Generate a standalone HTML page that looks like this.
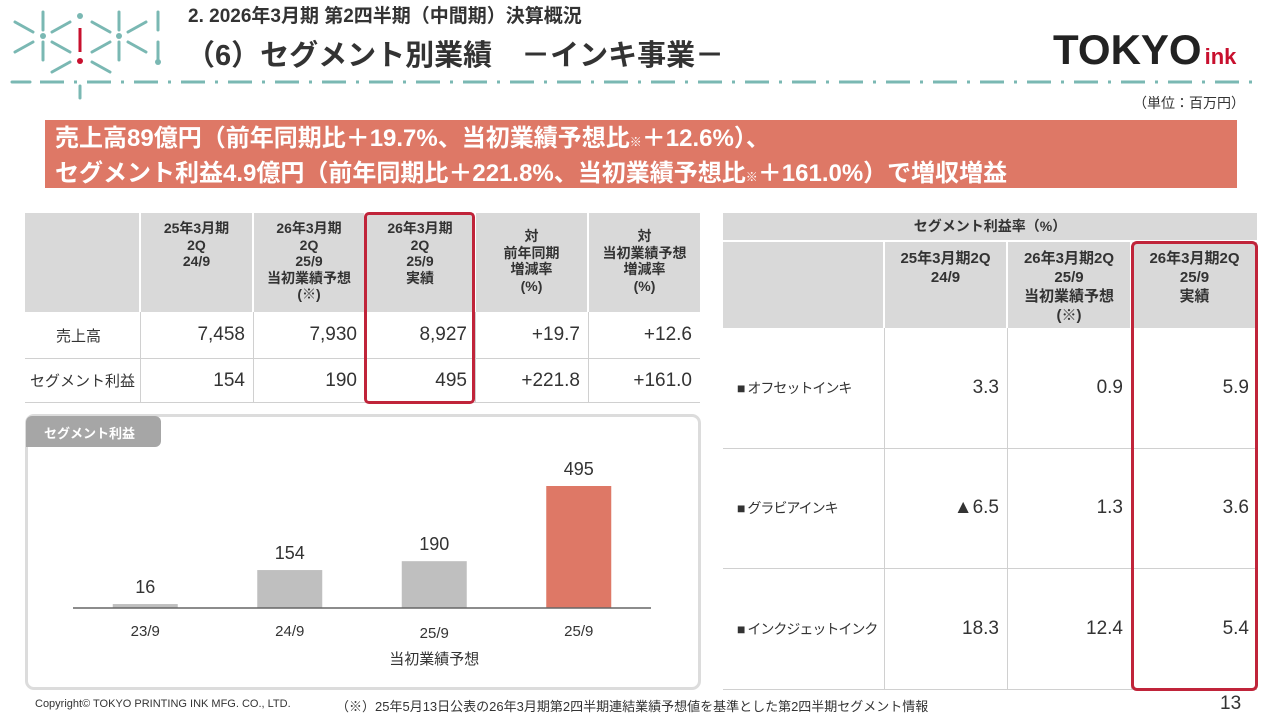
<!DOCTYPE html>
<html><head><meta charset="utf-8"><style>
*{box-sizing:border-box;margin:0;padding:0}
body{width:1280px;height:720px;position:relative;background:#fff;font-family:"Liberation Sans","Noto Sans CJK JP",sans-serif;color:#333;overflow:hidden}
.a{position:absolute}
.cell{position:absolute;display:flex;align-items:center;justify-content:flex-end;padding-right:8px;font-size:19px;color:#333;white-space:nowrap}
.hd{position:absolute;display:flex;flex-direction:column;align-items:center;justify-content:flex-start;padding-top:7px;font-size:14px;font-weight:bold;line-height:16.5px;text-align:center;background:#d9d9d9;color:#333}
</style></head><body>
<svg class="a" style="left:0;top:0" width="1280" height="100">
<g stroke="#7ab8b3" stroke-width="3" stroke-linecap="round">
<line x1="43" y1="12" x2="43" y2="30"/><line x1="43" y1="42" x2="43" y2="60"/>
<line x1="119" y1="12" x2="119" y2="30"/><line x1="119" y1="42" x2="119" y2="60"/>
<line x1="158" y1="12" x2="158" y2="30"/><line x1="158" y1="42" x2="158" y2="60"/>
<line x1="15" y1="22" x2="33" y2="32"/><line x1="15" y1="52" x2="33" y2="42"/>
<line x1="52" y1="32" x2="70" y2="22"/><line x1="52" y1="42" x2="70" y2="52"/>
<line x1="92" y1="22" x2="110" y2="32"/><line x1="92" y1="52" x2="110" y2="42"/>
<line x1="128" y1="32" x2="146" y2="22"/><line x1="128" y1="42" x2="146" y2="52"/>
<line x1="52" y1="72" x2="70" y2="62"/><line x1="92" y1="62" x2="110" y2="72"/>
<line x1="80" y1="86" x2="80" y2="98"/>
<line x1="12" y1="82" x2="30" y2="82"/>
</g>
<g fill="#7ab8b3"><circle cx="43" cy="36" r="3"/><circle cx="119" cy="36" r="3"/><circle cx="80" cy="16" r="3"/><circle cx="158" cy="62" r="3"/></g>
<line x1="80" y1="28" x2="80" y2="52" stroke="#c8102e" stroke-width="3"/><circle cx="80" cy="61" r="3" fill="#c8102e"/>
<line x1="40" y1="82" x2="1260" y2="82" stroke="#7ab8b3" stroke-width="3" stroke-dasharray="24 10 3 10"/>
</svg>
<div class="a" style="left:188px;top:1px;font-size:19px;font-weight:bold;color:#333;white-space:nowrap">2. 2026年3月期 第2四半期（中間期）決算概況</div>
<div class="a" style="left:186px;top:32px;font-size:29px;font-weight:bold;color:#333;white-space:nowrap">（6）セグメント別業績　－インキ事業－</div>
<div class="a" style="left:1053px;top:26px;font-size:42px;font-weight:900;color:#222;white-space:nowrap">TOKYO<span style="font-size:22px;color:#c8102e;margin-left:3px">ink</span></div>
<div class="a" style="left:1133px;top:93px;font-size:14px;color:#333">（単位：百万円）</div>
<div class="a" style="left:45px;top:120px;width:1192px;height:68px;background:#de7866;color:#fff;font-size:24px;font-weight:bold;line-height:31px;padding:3px 0 0 10px;white-space:nowrap">売上高89億円（前年同期比＋19.7%、当初業績予想比<span style="font-size:12px">※</span>＋12.6%）、<br>セグメント利益4.9億円（前年同期比＋221.8%、当初業績予想比<span style="font-size:12px">※</span>＋161.0%）で増収増益</div>

<div class="a" style="left:25px;top:213px;width:675px;height:190px">
<div class="hd" style="left:0;top:0;width:114px;height:99px"></div>
<div class="hd" style="left:116px;top:0;width:111px;height:99px">25年3月期<br>2Q<br>24/9</div>
<div class="hd" style="left:229px;top:0;width:110px;height:99px">26年3月期<br>2Q<br>25/9<br>当初業績予想<br>(※)</div>
<div class="hd" style="left:341px;top:0;width:108px;height:99px">26年3月期<br>2Q<br>25/9<br>実績</div>
<div class="hd" style="left:451px;top:0;width:111px;height:99px;padding-top:15px">対<br>前年同期<br>増減率<br>(%)</div>
<div class="hd" style="left:564px;top:0;width:111px;height:99px;padding-top:15px">対<br>当初業績予想<br>増減率<br>(%)</div>
<div class="a" style="left:0;top:99px;width:675px;height:91px;border-bottom:1px solid #d0d0d0"></div>
<div class="a" style="left:0;top:145px;width:675px;height:1px;background:#d0d0d0"></div>
<div class="a" style="left:115px;top:99px;width:1px;height:91px;background:#d0d0d0"></div>
<div class="a" style="left:228px;top:99px;width:1px;height:91px;background:#d0d0d0"></div>
<div class="a" style="left:340px;top:99px;width:1px;height:91px;background:#d0d0d0"></div>
<div class="a" style="left:450px;top:99px;width:1px;height:91px;background:#d0d0d0"></div>
<div class="a" style="left:563px;top:99px;width:1px;height:91px;background:#d0d0d0"></div>
<div class="cell" style="left:0;top:99px;width:115px;height:46px;justify-content:center;font-size:15px">売上高</div>
<div class="cell" style="left:115px;top:99px;width:113px;height:46px">7,458</div>
<div class="cell" style="left:228px;top:99px;width:112px;height:46px">7,930</div>
<div class="cell" style="left:340px;top:99px;width:110px;height:46px">8,927</div>
<div class="cell" style="left:450px;top:99px;width:113px;height:46px">+19.7</div>
<div class="cell" style="left:563px;top:99px;width:112px;height:46px">+12.6</div>
<div class="cell" style="left:0;top:145px;width:115px;height:45px;justify-content:center;padding-right:0;font-size:15px">セグメント利益</div>
<div class="cell" style="left:115px;top:145px;width:113px;height:45px">154</div>
<div class="cell" style="left:228px;top:145px;width:112px;height:45px">190</div>
<div class="cell" style="left:340px;top:145px;width:110px;height:45px">495</div>
<div class="cell" style="left:450px;top:145px;width:113px;height:45px">+221.8</div>
<div class="cell" style="left:563px;top:145px;width:112px;height:45px">+161.0</div>
</div>
<div class="a" style="left:364px;top:212px;width:111px;height:192px;border:3px solid #c0243a;border-radius:5px"></div>

<div class="a" style="left:25px;top:414px;width:676px;height:276px;border:3px solid #dcdcdc;border-radius:9px"></div>
<div class="a" style="left:26px;top:416px;width:135px;height:31px;background:#a6a6a6;border-radius:6px 6px 6px 0;color:#fff;font-size:13px;font-weight:bold;padding:7px 0 0 18px">セグメント利益</div>
<svg id="chart" class="a" style="left:0;top:0" width="720" height="700"></svg>

<div class="a" style="left:723px;top:213px;width:534px;height:477px">
<div class="hd" style="left:0;top:0;width:534px;height:27px;padding-top:5px">セグメント利益率（%）</div>
<div class="hd" style="left:0;top:29px;width:160px;height:86px"></div>
<div class="hd" style="left:162px;top:29px;width:121px;height:86px;font-size:15px;line-height:19px">25年3月期2Q<br>24/9</div>
<div class="hd" style="left:285px;top:29px;width:122px;height:86px;font-size:15px;line-height:19px">26年3月期2Q<br>25/9<br>当初業績予想<br>(※)</div>
<div class="hd" style="left:409px;top:29px;width:125px;height:86px;font-size:15px;line-height:19px">26年3月期2Q<br>25/9<br>実績</div>
<div class="a" style="left:0;top:115px;width:534px;height:362px;border-bottom:1px solid #d0d0d0"></div>
<div class="a" style="left:0;top:235px;width:534px;height:1px;background:#d0d0d0"></div>
<div class="a" style="left:0;top:355px;width:534px;height:1px;background:#d0d0d0"></div>
<div class="a" style="left:161px;top:115px;width:1px;height:362px;background:#d0d0d0"></div>
<div class="a" style="left:284px;top:115px;width:1px;height:362px;background:#d0d0d0"></div>
<div class="a" style="left:408px;top:115px;width:1px;height:362px;background:#d0d0d0"></div>
<div class="cell" style="left:0;top:115px;width:161px;height:120px;justify-content:flex-start;padding-left:14px;font-size:14px;letter-spacing:-1px">■ オフセットインキ</div>
<div class="cell" style="left:161px;top:115px;width:123px;height:120px">3.3</div>
<div class="cell" style="left:284px;top:115px;width:124px;height:120px">0.9</div>
<div class="cell" style="left:408px;top:115px;width:126px;height:120px">5.9</div>
<div class="cell" style="left:0;top:235px;width:161px;height:120px;justify-content:flex-start;padding-left:14px;font-size:14px;letter-spacing:-1px">■ グラビアインキ</div>
<div class="cell" style="left:161px;top:235px;width:123px;height:120px">▲6.5</div>
<div class="cell" style="left:284px;top:235px;width:124px;height:120px">1.3</div>
<div class="cell" style="left:408px;top:235px;width:126px;height:120px">3.6</div>
<div class="cell" style="left:0;top:355px;width:161px;height:122px;justify-content:flex-start;padding-left:14px;font-size:14px;letter-spacing:-1px">■ インクジェットインク</div>
<div class="cell" style="left:161px;top:355px;width:123px;height:122px">18.3</div>
<div class="cell" style="left:284px;top:355px;width:124px;height:122px">12.4</div>
<div class="cell" style="left:408px;top:355px;width:126px;height:122px">5.4</div>
</div>
<div class="a" style="left:1131px;top:241px;width:127px;height:450px;border:3px solid #c0243a;border-radius:6px"></div>

<div class="a" style="left:35px;top:698px;font-size:11px;color:#333;white-space:nowrap">Copyright© TOKYO PRINTING INK MFG. CO., LTD.</div>
<div class="a" style="left:336px;top:696px;font-size:13px;color:#333;white-space:nowrap">（※）25年5月13日公表の26年3月期第2四半期連結業績予想値を基準とした第2四半期セグメント情報</div>
<div class="a" style="left:1220px;top:693px;font-size:19px;color:#333">13</div>

<script>
const categories=["23/9","24/9","25/9","25/9"];
const subLabels=["","","当初業績予想",""];
const values=[16,154,190,495];
const colors=["#bfbfbf","#bfbfbf","#bfbfbf","#de7866"];
const svg=document.getElementById('chart');
const NS="http://www.w3.org/2000/svg";
const baseY=608, scale=122/495, x0=73, x1=651, bw=65;
const yOf=v=>baseY-v*scale;
const xOf=i=>x0+(x1-x0)*(i+0.5)/categories.length;
function mk(t,a){const e=document.createElementNS(NS,t);for(const k in a)e.setAttribute(k,a[k]);svg.appendChild(e);return e;}
values.forEach((v,i)=>{
 const r=mk('rect',{x:xOf(i)-bw/2,y:yOf(v),width:bw,height:baseY-yOf(v),fill:colors[i]});
 
 
 const t=mk('text',{x:xOf(i),y:yOf(v)-11,'text-anchor':'middle','font-size':18,fill:'#333'});
 t.textContent=v;
 
 
 const c=mk('text',{x:xOf(i),y:subLabels[i]?638:636,'text-anchor':'middle','font-size':15,fill:'#333'});
 c.textContent=categories[i];
 
 
 if(subLabels[i]){const s=mk('text',{x:xOf(i),y:664,'text-anchor':'middle','font-size':15,fill:'#333'});s.textContent=subLabels[i];
 
 }
});
const ax=mk('line',{x1:x0,x2:x1,y1:baseY,y2:baseY,stroke:'#666','stroke-width':1.5});


</script>
</body></html>
